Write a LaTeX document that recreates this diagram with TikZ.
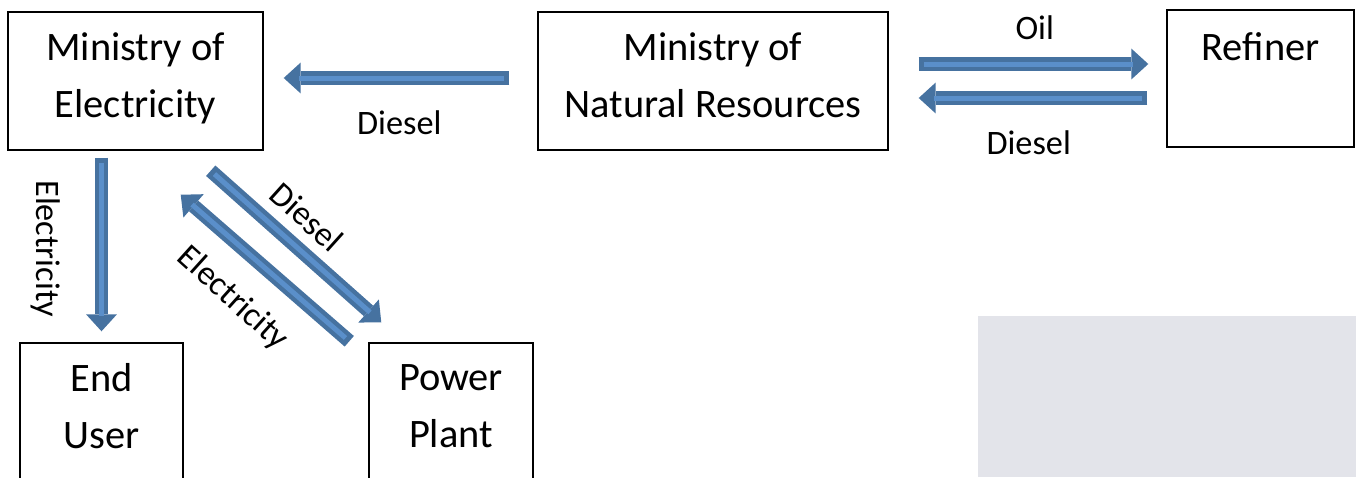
\documentclass[tikz,border=0pt]{standalone}
\usepackage{fontspec}
\setmainfont{Carlito}
\usepackage{xcolor}
\usetikzlibrary{arrows.meta,calc}
\definecolor{flowedge}{HTML}{4672A0}
\definecolor{flowfill}{HTML}{5A8FCA}
\definecolor{panelgrey}{HTML}{E3E4EA}

\begin{document}
\begin{tikzpicture}[x=0.02cm,y=-0.02cm,
box/.style={draw,line width=0.85pt,align=center,inner sep=0pt,font=\fontsize{23}{32.4}\selectfont},
lbl/.style={inner sep=0pt,font=\fontsize{19.5}{24}\selectfont},
flow/.style 2 args={draw=flowedge,line width=0.28cm,-{Triangle[width=0.62cm,length=0.34cm,line width=0pt]},
  shorten <=#1,shorten >=#2,
  postaction={draw=flowfill,line width=0.1cm,-,shorten <=#1+0.1cm,shorten >=#2+0.3cm}}]
\useasboundingbox (0,0) rectangle (1356,477);
\fill[panelgrey] (978,316) rectangle (1356,477);
% boxes
\node[box,minimum width=5.1cm,minimum height=2.76cm] (elec) at (135.5,81) {Ministry of\\Electricity\rule[-0.22cm]{0pt}{0pt}};
\node[box,minimum width=7cm,minimum height=2.76cm] (natres) at (713,81) {Ministry of\\Natural Resources\rule[-0.22cm]{0pt}{0pt}};
\node[box,minimum width=3.74cm,minimum height=2.74cm] (refiner) at (1260.5,78.5) {Refiner\\\rule[-0.16cm]{0pt}{0pt}};
\node[box,minimum width=3.26cm,minimum height=4cm] (enduser) at (101.5,443) {End\\User\\\strut};
\node[box,minimum width=3.28cm,minimum height=4cm] (plant) at (451,443) {Power\\Plant\\\strut};
% flows
\draw[flow={0.56cm}{0.4cm}] ($(natres.west)+(0,-3)$) -- ($(elec.east)+(0,-3)$);
\draw[flow={0.6cm}{0.36cm}] ($(natres.east)+(0,-17)$) -- ($(natres.east-|refiner.west)+(0,-17)$);
\draw[flow={0.38cm}{0.6cm}] ($(natres.east-|refiner.west)+(0,17)$) -- ($(natres.east)+(0,17)$);
\draw[flow={0.14cm}{0.22cm}] (enduser.north|-elec.south) -- (enduser.north);
\coordinate (dtail) at ($(elec.south east)+(-53,20)$);
\coordinate (dtip) at ($(plant.north west)+(13,-20)$);
\coordinate (etail) at ($(plant.north west)+(-19,-1)$);
\coordinate (etip) at ($(elec.south east)+(-83,44)$);
\draw[flow={0pt}{0pt}] (dtail) -- (dtip);
\draw[flow={0pt}{0pt}] (etail) -- (etip);
% labels
\node[lbl] (l1) at ($(natres.south west)+(-138,-28)$) {Diesel};
\node[lbl] (l2) at ($(natres.north east)+(146,16)$) {Oil};
\node[lbl] (l3) at ($(natres.south east)+(140,-8)$) {Diesel};
\node[lbl,rotate=-90] (l4) at ($(elec.south west)+(38,98)$) {Electricity};
\node[lbl,rotate=-42] (l5) at ($(elec.south east)+(43,66)$) {Diesel};
\node[lbl,rotate=-42] (l6) at ($(elec.south east)+(-31,148)$) {Electricity};
\end{tikzpicture}
\end{document}
